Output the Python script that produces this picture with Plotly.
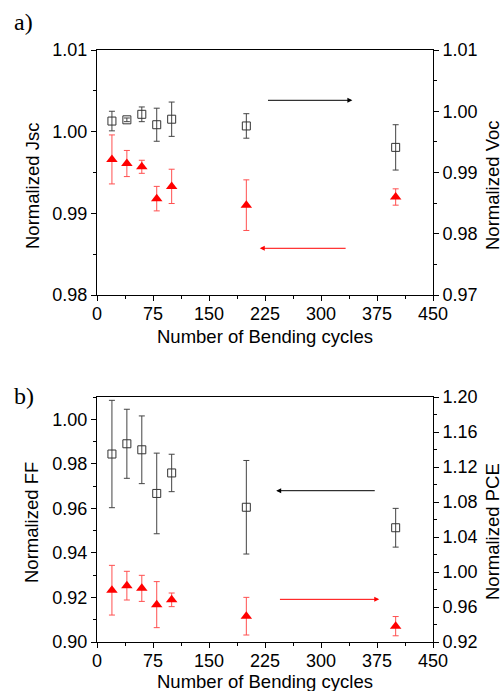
import plotly.graph_objects as go

# ---- data ----
cycles = [20, 40, 60, 80, 100, 200, 400]
jsc = [0.9966, 0.9961, 0.9957, 0.9918, 0.9933, 0.9910, 0.9920]
jsc_err = [0.0030, 0.0016, 0.0008, 0.0015, 0.0021, 0.0031, 0.0010]
voc = [0.9984, 0.9986, 0.9995, 0.9978, 0.9987, 0.9976, 0.9941]
voc_err = [0.0016, 0.0003, 0.0012, 0.0027, 0.0028, 0.0020, 0.0037]
ff = [0.9844, 0.9890, 0.9863, 0.9667, 0.9759, 0.9605, 0.9513]
ff_err = [0.0241, 0.0155, 0.0152, 0.0181, 0.0084, 0.0210, 0.0087]
pce = [0.9792, 0.9844, 0.9813, 0.9627, 0.9682, 0.9495, 0.9381]
pce_err = [0.0284, 0.0164, 0.0149, 0.0263, 0.0078, 0.0215, 0.0110]

x_ticks = [0, 75, 150, 225, 300, 375, 450]

# arrows: (tail_x, head_x, y, yref, colour)
arrows = [
    (227, 342, 1.00384, "y", "black"),
    (335, 218, 0.98572, "y", "red"),
    (374, 240, 0.96793, "y3", "black"),
    (243, 378, 0.91916, "y3", "red"),
]

FONT = "Liberation Sans, Arial, sans-serif"
SERIF = "Liberation Serif, Times New Roman, serif"
BLK = "#333333"
RED = "#ff0000"

W, H = 503, 691
ML, MR, MT, MB = 97, 70, 50, 49
PW, PH = W - ML - MR, H - MT - MB

def px(xp):
    return (xp - ML) / PW

def py(yp):
    return 1 - (yp - MT) / PH

fig = go.Figure()

def sq(x, y, e, xa, ya):
    return go.Scatter(x=x, y=y, xaxis=xa, yaxis=ya, mode="markers",
                      marker=dict(symbol="square-open", size=8, color=BLK,
                                  line=dict(width=1, color=BLK)),
                      error_y=dict(type="data", array=e, color="#444444",
                                   thickness=1, width=3),
                      showlegend=False, hoverinfo="skip")

def tri(x, y, e, xa, ya):
    return go.Scatter(x=x, y=y, xaxis=xa, yaxis=ya, mode="markers",
                      marker=dict(symbol="triangle-up", size=10, color=RED),
                      error_y=dict(type="data", array=e, color="#ff5050",
                                   thickness=1, width=3),
                      showlegend=False, hoverinfo="skip")

fig.add_trace(tri(cycles, jsc, jsc_err, "x", "y"))
fig.add_trace(sq(cycles, voc, voc_err, "x", "y2"))
fig.add_trace(sq(cycles, ff, ff_err, "x2", "y3"))
fig.add_trace(tri(cycles, pce, pce_err, "x2", "y4"))

axcommon = dict(showline=True, linecolor="black", linewidth=1,
                ticks="outside", ticklen=5, tickwidth=1, tickcolor="black",
                showgrid=False, zeroline=False, automargin=False,
                tickfont=dict(family=FONT, size=18, color="black"))

xcommon = dict(axcommon, range=[0, 450], tickvals=x_ticks,
               ticklabelstandoff=-3,
               minor=dict(ticks="outside", ticklen=3, dtick=37.5, tick0=0,
                          tickcolor="black"),
               mirror=True)

top_dom = [1 - (295 - MT) / PH, 1.0]
bot_dom = [0.0, 1 - (397 - MT) / PH]

fig.update_layout(
    width=W, height=H,
    margin=dict(l=ML, r=MR, t=MT, b=MB),
    paper_bgcolor="white", plot_bgcolor="white",
    xaxis=dict(xcommon, domain=[0, 1], anchor="y"),
    yaxis=dict(axcommon, domain=top_dom, range=[0.98, 1.01], anchor="x",
               tickvals=[0.98, 0.99, 1.00, 1.01], tickformat=".2f",
               minor=dict(ticks="outside", ticklen=3, dtick=0.005, tick0=0.98,
                          tickcolor="black")),
    yaxis2=dict(axcommon, domain=top_dom, range=[0.97, 1.01], anchor="x",
                overlaying="y", side="right",
                tickvals=[0.97, 0.98, 0.99, 1.00, 1.01], tickformat=".2f",
                minor=dict(ticks="outside", ticklen=3, dtick=0.005, tick0=0.97,
                           tickcolor="black")),
    xaxis2=dict(xcommon, domain=[0, 1], anchor="y3"),
    yaxis3=dict(axcommon, domain=bot_dom, range=[0.90, 1.01], anchor="x2",
                tickvals=[0.90, 0.92, 0.94, 0.96, 0.98, 1.00], tickformat=".2f",
                minor=dict(ticks="outside", ticklen=3, dtick=0.01, tick0=0.90,
                           tickcolor="black")),
    yaxis4=dict(axcommon, domain=bot_dom, range=[0.92, 1.20], anchor="x2",
                overlaying="y3", side="right",
                tickvals=[0.92, 0.96, 1.00, 1.04, 1.08, 1.12, 1.16, 1.20],
                tickformat=".2f",
                minor=dict(ticks="outside", ticklen=3, dtick=0.02, tick0=0.92,
                           tickcolor="black")),
)

for tail, head, yv, yref, col in arrows:
    xref = "x" if yref == "y" else "x2"
    fig.add_annotation(x=head, y=yv, ax=tail, ay=yv, xref=xref, yref=yref,
                       axref=xref, ayref=yref, text="", showarrow=True,
                       arrowhead=2, arrowsize=1, arrowwidth=1, arrowcolor=col)

# axis titles (placed by pixel position)
titles = [
    ("Number of Bending cycles", 265, 336, 0),
    ("Number of Bending cycles", 265, 681, 0),
    ("Normalized Jsc", 32, 186, -90),
    ("Normalized Voc", 492, 185, -90),
    ("Normalized FF", 31, 523, -90),
    ("Normalized PCE", 492, 532, -90),
]
for txt, xp, yp, ang in titles:
    fig.add_annotation(text=txt, x=px(xp), y=py(yp), xref="paper", yref="paper",
                       xanchor="center", yanchor="middle", textangle=ang,
                       showarrow=False,
                       font=dict(family=FONT, size=18.5, color="black"))

for txt, xp, yp in [("a)", 12, 22), ("b)", 12, 396)]:
    fig.add_annotation(text=txt, x=px(xp), y=py(yp), xref="paper", yref="paper",
                       xanchor="left", yanchor="middle", showarrow=False,
                       font=dict(family=SERIF, size=24, color="black"))

fig.write_html("out.html", config={"displayModeBar": False},
               post_script="document.body.style.margin='0px';document.body.style.overflow='hidden';")
